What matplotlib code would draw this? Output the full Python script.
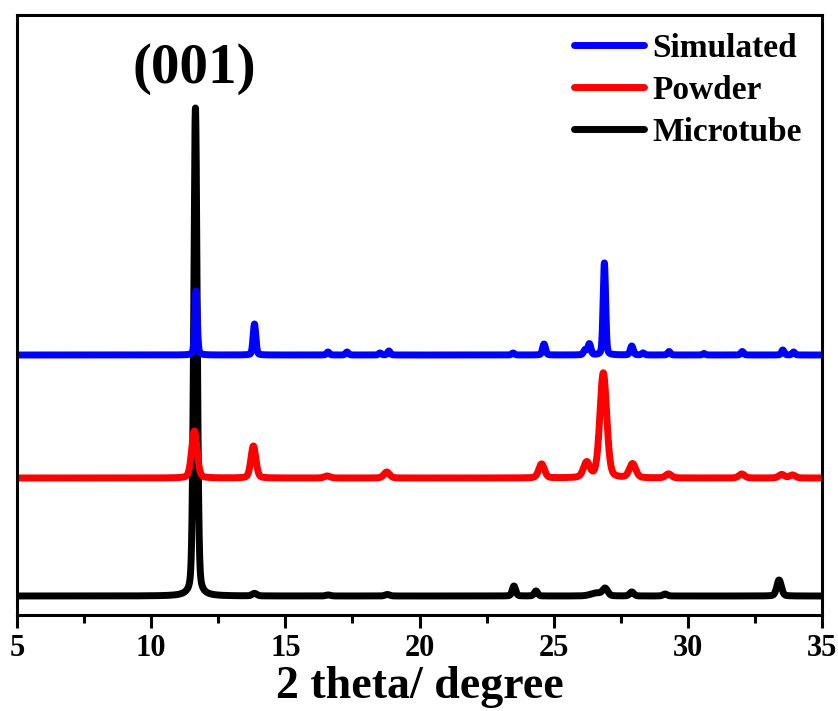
import numpy as np
import matplotlib
matplotlib.use("Agg")
import matplotlib.pyplot as plt
from matplotlib.ticker import MultipleLocator

plt.rcParams['font.family'] = ['Liberation Serif', 'DejaVu Serif']
plt.rcParams['font.weight'] = 'bold'

# Reflection lists (2theta in degrees, intensity in a.u., FWHM in degrees)
sim_pos = [11.67, 13.85, 16.59, 17.30, 18.53, 18.86, 23.49, 24.64, 26.17, 26.33,
           26.89, 27.91, 28.33, 29.30, 30.60, 32.03, 33.54, 33.94]
sim_int = [64.0, 31.0, 3.0, 3.0, 2.0, 4.0, 2.0, 11.0, 5.0, 11.0,
           92.0, 9.0, 2.0, 3.5, 1.5, 3.5, 5.0, 3.0]
sim_fwhm = [0.11, 0.12, 0.12, 0.12, 0.12, 0.12, 0.12, 0.13, 0.13, 0.13,
            0.11, 0.13, 0.12, 0.12, 0.12, 0.12, 0.12, 0.12]

pow_pos = [11.61, 13.81, 16.56, 18.78, 24.55, 26.23, 26.85, 27.94, 29.28, 32.01, 33.50, 33.90]
pow_int = [47.0, 32.0, 2.0, 6.0, 14.0, 15.0, 105.0, 14.0, 4.0, 4.0, 3.5, 3.0]
pow_fwhm = [0.24, 0.22, 0.25, 0.25, 0.25, 0.28, 0.30, 0.28, 0.25, 0.25, 0.25, 0.25]

tube_pos = [11.65, 13.85, 16.60, 18.80, 23.52, 24.34, 26.60, 26.92, 27.91, 29.15, 33.40]
tube_int = [488.0, 2.5, 1.0, 1.5, 10.0, 5.0, 3.0, 7.0, 4.0, 2.0, 16.0]
tube_fwhm = [0.15, 0.20, 0.20, 0.20, 0.15, 0.15, 0.50, 0.22, 0.18, 0.18, 0.20]

# Vertical stacking offsets
offsets = {"Simulated": 260.0, "Powder": 137.0, "Microtube": 19.0}
colors = {"Simulated": "#0000ff", "Powder": "#ff0000", "Microtube": "#000000"}

two_theta = np.linspace(5, 35, 6001)


def pattern(pos, inten, fwhm, eta=0.25):
    y = np.zeros_like(two_theta)
    for p, a, w in zip(pos, inten, fwhm):
        g = np.exp(-4 * np.log(2) * ((two_theta - p) / w) ** 2)
        l = 1.0 / (1.0 + 4 * ((two_theta - p) / w) ** 2)
        y += a * (eta * l + (1 - eta) * g)
    return y


series = [
    ("Simulated", sim_pos, sim_int, sim_fwhm),
    ("Powder", pow_pos, pow_int, pow_fwhm),
    ("Microtube", tube_pos, tube_int, tube_fwhm),
]

fig = plt.figure(figsize=(8.38, 7.11), dpi=100)
ax = fig.add_axes([17 / 838, 1 - 615 / 711, (822 - 17) / 838, (615 - 15) / 711])

handles = []
for i, (name, pos, inten, fwhm) in enumerate(series):
    h, = ax.plot(two_theta, pattern(pos, inten, fwhm) + offsets[name],
                 color=colors[name], lw=5, label=name, zorder=5 - i,
                 solid_joinstyle='round', solid_capstyle='round')
    handles.append(h)

ax.set_xlim(5, 35)
ax.set_ylim(0, 600)
ax.xaxis.set_major_locator(MultipleLocator(5))
ax.xaxis.set_minor_locator(MultipleLocator(2.5))
ax.set_yticks([])
ax.tick_params(axis='x', which='major', direction='out', length=9.5, width=2.2,
               labelsize=22, pad=4)
ax.tick_params(axis='x', which='minor', direction='out', length=6, width=2.2)
for s in ax.spines.values():
    s.set_linewidth(2.2)
    s.set_zorder(10)

ax.set_xlabel("2 theta/ degree", fontsize=33, fontweight='bold', labelpad=2)

ax.text(11.6, 546, "(001)", fontsize=41, fontweight='bold', ha='center', va='center')

leg = ax.legend(handles=handles, loc='upper right', bbox_to_anchor=(0.983, 0.981),
                frameon=False, fontsize=24, handlelength=2.1, handletextpad=0.25,
                labelspacing=0.33, borderaxespad=0.0, borderpad=0.2)
for line in leg.get_lines():
    line.set_linewidth(5)

fig.savefig("out.png", dpi=100, facecolor='white')
